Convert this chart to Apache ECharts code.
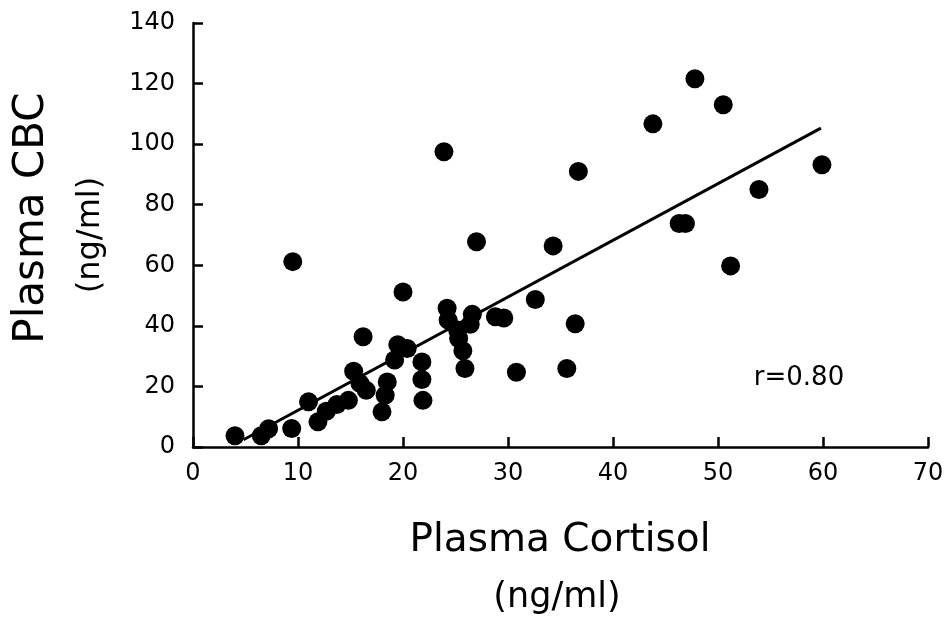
<!DOCTYPE html>
<html>
<head>
<meta charset="utf-8">
<script src="https://cdn.jsdelivr.net/npm/echarts@6/dist/echarts.min.js"></script>
<style>
  html, body { margin: 0; padding: 0; background: #fff; }
  #chart { width: 950px; height: 621px; }
</style>
</head>
<body>
<div id="chart"></div>
<script>
// Plasma cortisol (x, ng/ml) vs plasma CBC (y, ng/ml), one pair per subject
const cortisol = [4.0, 6.5, 7.2, 9.4, 9.5, 11.0, 11.9, 12.7, 13.7, 14.8, 15.3, 15.9, 16.5, 16.2,
  18.0, 18.3, 18.5, 19.2, 19.5, 20.4, 20.0, 21.8, 21.8, 21.9, 23.9, 24.2, 24.3, 25.2, 25.3, 25.7,
  25.9, 26.6, 26.4, 27.0, 28.8, 29.6, 30.8, 32.6, 34.3, 35.6, 36.4, 36.7, 43.8, 46.3, 46.9, 47.8,
  50.5, 51.2, 53.9, 59.9];
const cbc = [3.7, 3.7, 6.0, 6.1, 61.2, 14.9, 8.3, 11.8, 14.0, 15.4, 25.0, 21.0, 18.7, 36.4,
  11.6, 17.1, 21.5, 28.7, 33.8, 32.5, 51.2, 28.1, 22.3, 15.4, 97.5, 45.8, 41.9, 38.6, 35.8, 31.8,
  25.9, 43.8, 40.5, 67.8, 43.0, 42.6, 24.7, 48.7, 66.4, 25.9, 40.7, 91.0, 106.7, 73.8, 73.8, 121.6,
  113.0, 59.8, 85.0, 93.2];

// Regression line end points (cortisol, CBC)
const fitX = [4.8, 59.8];
const fitY = [2.4, 105.3];

const xTicks = [0, 10, 20, 30, 40, 50, 60, 70];
const yTicks = [0, 20, 40, 60, 80, 100, 120, 140];
const corrLabel = 'r=0.80';

const FONT = 'DejaVu Sans';

const points = cortisol.map((x, i) => [x, cbc[i]]);
const fitLine = fitX.map((x, i) => [x, fitY[i]]);

const chart = echarts.init(document.getElementById('chart'), null, { renderer: 'canvas' });

const axisCommon = {
  type: 'value',
  axisLine: { show: true, lineStyle: { color: '#000', width: 2.5 } },
  axisTick: { show: true, inside: true, length: 10, lineStyle: { color: '#000', width: 2.5 } },
  splitLine: { show: false },
  axisLabel: { color: '#000', fontSize: 24, fontFamily: FONT }
};

chart.setOption({
  animation: false,
  backgroundColor: '#fff',
  grid: { left: 193, right: 22, top: 23, bottom: 174 },
  xAxis: Object.assign({}, axisCommon, {
    min: xTicks[0], max: xTicks[xTicks.length - 1], interval: 10,
    axisLabel: Object.assign({}, axisCommon.axisLabel, { margin: 15 })
  }),
  yAxis: Object.assign({}, axisCommon, {
    min: yTicks[0], max: yTicks[yTicks.length - 1], interval: 20,
    axisLabel: Object.assign({}, axisCommon.axisLabel, { margin: 18 })
  }),
  series: [
    {
      type: 'line',
      data: fitLine,
      symbol: 'none',
      lineStyle: { color: '#000', width: 3 },
      z: 2
    },
    {
      type: 'scatter',
      data: points,
      symbol: 'circle',
      symbolSize: 19,
      itemStyle: { color: '#000', opacity: 1 },
      z: 3
    }
  ],
  graphic: [
    {
      type: 'text', x: 32, y: 218, rotation: Math.PI / 2,
      style: { text: 'Plasma CBC', fontSize: 42, fontFamily: FONT, fill: '#000',
        textAlign: 'center', textVerticalAlign: 'middle' }
    },
    {
      type: 'text', x: 91, y: 235, rotation: Math.PI / 2,
      style: { text: '(ng/ml)', fontSize: 32, fontFamily: FONT, fill: '#000',
        textAlign: 'center', textVerticalAlign: 'middle' }
    },
    {
      type: 'text', x: 560, y: 541,
      style: { text: 'Plasma Cortisol', fontSize: 39, fontFamily: FONT, fill: '#000',
        textAlign: 'center', textVerticalAlign: 'middle' }
    },
    {
      type: 'text', x: 557, y: 598,
      style: { text: '(ng/ml)', fontSize: 35, fontFamily: FONT, fill: '#000',
        textAlign: 'center', textVerticalAlign: 'middle' }
    },
    {
      type: 'text', x: 799, y: 378,
      style: { text: corrLabel, fontSize: 26, fontFamily: FONT, fill: '#000',
        textAlign: 'center', textVerticalAlign: 'middle' }
    }
  ]
});
</script>
</body>
</html>
